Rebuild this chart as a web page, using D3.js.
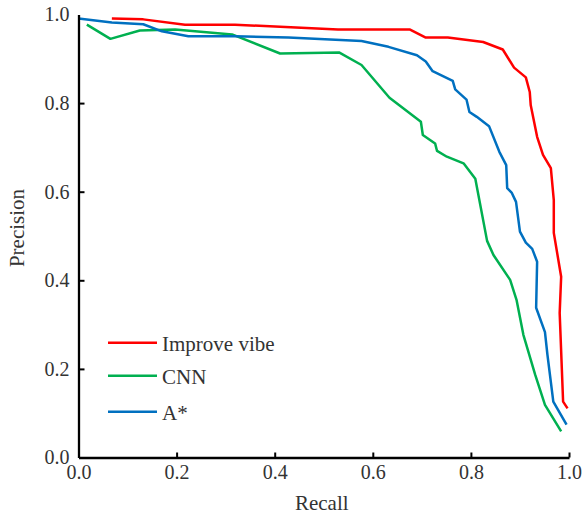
<!DOCTYPE html>
<html>
<head>
<meta charset="utf-8">
<script src="https://cdn.jsdelivr.net/npm/d3@7"></script>
<style>
  html, body { margin: 0; padding: 0; background: #fff; }
  svg { display: block; }
  text { font-family: "Liberation Serif", "Times New Roman", serif; }
</style>
</head>
<body>
<svg id="chart" width="584" height="516"></svg>
<script>
// ---- data (Recall, Precision) ----
const seriesNames = ["Improve vibe", "CNN", "A*"];
const seriesColors = ["#ff0000", "#00b050", "#0070c0"];

const improveRecall = [0.068, 0.132, 0.217, 0.319, 0.529, 0.676, 0.708, 0.753, 0.825, 0.865, 0.888, 0.912, 0.920, 0.922, 0.935, 0.947, 0.963, 0.969, 0.969, 0.984, 0.981, 0.988, 0.997];
const improvePrecision = [0.991, 0.989, 0.977, 0.977, 0.966, 0.966, 0.948, 0.948, 0.938, 0.921, 0.880, 0.858, 0.825, 0.795, 0.724, 0.683, 0.653, 0.581, 0.507, 0.408, 0.326, 0.126, 0.111];

const cnnRecall = [0.017, 0.065, 0.125, 0.197, 0.313, 0.411, 0.532, 0.577, 0.634, 0.698, 0.702, 0.727, 0.731, 0.751, 0.785, 0.809, 0.833, 0.846, 0.880, 0.893, 0.907, 0.931, 0.951, 0.984];
const cnnPrecision = [0.977, 0.945, 0.964, 0.966, 0.955, 0.912, 0.914, 0.886, 0.812, 0.758, 0.728, 0.709, 0.692, 0.679, 0.664, 0.629, 0.489, 0.457, 0.401, 0.356, 0.277, 0.187, 0.119, 0.059];

const astarRecall = [0.0, 0.068, 0.132, 0.170, 0.224, 0.319, 0.428, 0.577, 0.632, 0.690, 0.708, 0.722, 0.763, 0.768, 0.791, 0.797, 0.812, 0.837, 0.858, 0.872, 0.874, 0.883, 0.892, 0.900, 0.912, 0.925, 0.935, 0.933, 0.951, 0.956, 0.968, 0.995];
const astarPrecision = [0.991, 0.982, 0.978, 0.962, 0.951, 0.951, 0.948, 0.940, 0.927, 0.908, 0.894, 0.872, 0.850, 0.831, 0.808, 0.780, 0.769, 0.748, 0.690, 0.660, 0.608, 0.598, 0.577, 0.510, 0.485, 0.471, 0.442, 0.338, 0.283, 0.232, 0.126, 0.074];

const tickValues = [0.0, 0.2, 0.4, 0.6, 0.8, 1.0];
const xLabel = "Recall";
const yLabel = "Precision";

// ---- build ----
const series = [
  { name: seriesNames[0], color: seriesColors[0], xs: improveRecall, ys: improvePrecision },
  { name: seriesNames[1], color: seriesColors[1], xs: cnnRecall, ys: cnnPrecision },
  { name: seriesNames[2], color: seriesColors[2], xs: astarRecall, ys: astarPrecision }
];

const svg = d3.select("#chart");
const plotLeft = 78.5, plotRight = 569, plotTop = 14.5, plotBottom = 457.5;

const x = d3.scaleLinear().domain([0, 1]).range([plotLeft, plotRight]);
const y = d3.scaleLinear().domain([0, 1]).range([plotBottom, plotTop]);

// lines
const line = d3.line().x(d => x(d[0])).y(d => y(d[1]));
svg.append("g").selectAll("path")
  .data(series)
  .join("path")
  .attr("d", s => line(s.xs.map((v, i) => [v, s.ys[i]])))
  .attr("fill", "none")
  .attr("stroke", s => s.color)
  .attr("stroke-width", 2.5)
  .attr("stroke-linejoin", "round");

// axes
const fmt = d3.format(".1f");
const xAxis = svg.append("g")
  .attr("transform", `translate(0,${plotBottom})`)
  .call(d3.axisBottom(x).tickValues(tickValues).tickFormat(fmt).tickSize(-5).tickSizeOuter(0).tickPadding(7));
const yAxis = svg.append("g")
  .attr("transform", `translate(${plotLeft},0)`)
  .call(d3.axisLeft(y).tickValues(tickValues).tickFormat(fmt).tickSize(-6).tickSizeOuter(0).tickPadding(9));

[xAxis, yAxis].forEach(g => {
  g.select(".domain").attr("stroke", "#000").attr("stroke-width", 2.3);
  g.selectAll(".tick line").attr("stroke", "#000").attr("stroke-width", 2);
  g.selectAll(".tick text")
    .attr("fill", "#333")
    .style("font-size", "20px")
    .style("font-family", "'Liberation Serif', 'Times New Roman', serif");
});
yAxis.selectAll(".tick").filter(d => d === 1.0).select("line").remove();
yAxis.selectAll(".tick").filter(d => d === 0.0).select("line").remove();
xAxis.selectAll(".tick").filter(d => d === 0.0).select("line").remove();

// axis titles
svg.append("text")
  .attr("x", (plotLeft + plotRight) / 2 - 2)
  .attr("y", 510)
  .attr("text-anchor", "middle")
  .attr("fill", "#333")
  .style("font-size", "21px")
  .text(xLabel);

svg.append("text")
  .attr("transform", `translate(24,${228}) rotate(-90)`)
  .attr("text-anchor", "middle")
  .attr("fill", "#333")
  .style("font-size", "21px")
  .text(yLabel);

// legend
const legendY = [342.7, 375.7, 411.7];
const lg = svg.append("g").selectAll("g")
  .data(series)
  .join("g")
  .attr("transform", (s, i) => `translate(0,${legendY[i]})`);
lg.append("line")
  .attr("x1", 108).attr("x2", 157)
  .attr("y1", 0).attr("y2", 0)
  .attr("stroke", s => s.color)
  .attr("stroke-width", 2.5);
lg.append("text")
  .attr("x", 162)
  .attr("y", 8)
  .attr("fill", "#333")
  .style("font-size", "21px")
  .text(s => s.name);
</script>
</body>
</html>
